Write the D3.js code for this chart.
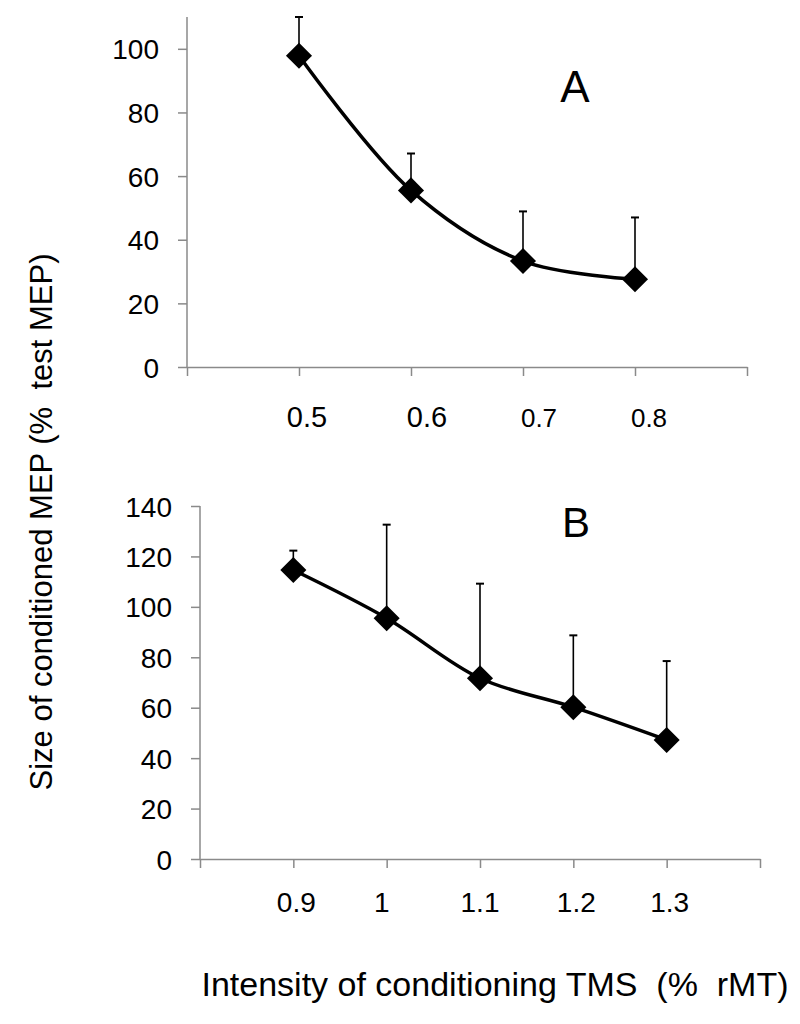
<!DOCTYPE html>
<html><head><meta charset="utf-8">
<script src="https://cdn.jsdelivr.net/npm/d3@7"></script>
<style>
body{margin:0;background:#fff;}
svg text{font-family:"Liberation Sans",Arial,sans-serif;fill:#000;}
</style></head>
<body><svg id="c" width="800" height="1024"></svg>
<script>
// Panel A data
const catsA = ["0.5","0.6","0.7","0.8"];
const meanA = [97.8, 55.5, 33.3, 27.6];
const errA  = [12.2, 11.6, 15.6, 19.4];
const yTicksA = [0,20,40,60,80,100];
// Panel B data
const catsB = ["0.9","1","1.1","1.2","1.3"];
const meanB = [114.6, 95.5, 71.7, 60.2, 47.2];
const errB  = [7.7, 37.1, 37.5, 28.5, 31.3];
const yTicksB = [0,20,40,60,80,100,120,140];

const svg = d3.select("#c");
const axisColor = "#8a8a8a";

function panel(cfg){
  const g = svg.append("g");
  const n = cfg.cats.length;
  const x = d3.scaleLinear().domain([0, n+1]).range([cfg.left, cfg.right]);
  const y = d3.scaleLinear().domain([0, cfg.ymax]).range([cfg.bottom, cfg.top]);

  // y axis
  const ya = g.append("g").attr("transform",`translate(${cfg.left},0)`)
    .call(d3.axisLeft(y).tickValues(cfg.yticks).tickSize(9).tickSizeOuter(0).tickPadding(cfg.yPad).tickFormat(d3.format("d")));
  ya.attr("font-size",cfg.yFont).attr("font-family",null);
  ya.selectAll("path,line").attr("stroke",axisColor).attr("stroke-width",1.5);
  ya.select(".domain").attr("d",`M0,${cfg.bottom}V${cfg.top}`);
  ya.selectAll("text").style("font-size",cfg.yFont+"px").attr("fill","#000").attr("dy","0.36em");

  // x axis
  const xa = g.append("g").attr("transform",`translate(0,${cfg.bottom})`)
    .call(d3.axisBottom(x).tickValues(d3.range(0,n+2)).tickSize(9).tickSizeOuter(0).tickFormat(""));
  xa.selectAll("path,line").attr("stroke",axisColor).attr("stroke-width",1.5);

  // x labels
  g.selectAll(".xl").data(cfg.cats).enter().append("text")
    .attr("x",(d,i)=>x(i+1)+cfg.xlabDx[i])
    .attr("y",cfg.xlabY)
    .attr("text-anchor","middle")
    .style("font-size",(d,i)=>cfg.xlabFont[i]+"px")
    .text(d=>d);

  const pts = cfg.means.map((m,i)=>({x:x(i+1), y:y(m), top:y(m+cfg.errs[i])}));

  // error bars
  const eb = g.append("g").attr("stroke","#000").attr("stroke-width",1.6);
  pts.forEach(p=>{
    eb.append("line").attr("x1",p.x).attr("x2",p.x).attr("y1",p.y).attr("y2",p.top);
    eb.append("line").attr("x1",p.x-4).attr("x2",p.x+4).attr("y1",p.top).attr("y2",p.top).attr("stroke-width",2);
  });

  // line
  g.append("path").datum(pts)
    .attr("d", d3.line().x(d=>d.x).y(d=>d.y).curve(d3.curveCatmullRom.alpha(0.5)))
    .attr("fill","none").attr("stroke","#000").attr("stroke-width",3.5);

  // markers (diamonds)
  g.selectAll(".mk").data(pts).enter().append("path")
    .attr("d", d3.symbol(d3.symbolSquare, 340)())
    .attr("transform", d=>`translate(${d.x},${d.y}) rotate(45)`)
    .attr("fill","#000");

  // panel letter
  g.append("text").attr("x",cfg.letterX).attr("y",cfg.letterY)
    .attr("text-anchor","middle").style("font-size",cfg.letterFont+"px").text(cfg.letter);
}

panel({cats:catsA, means:meanA, errs:errA, yticks:yTicksA, ymax:110,
  left:187, right:747, top:17, bottom:367, yFont:28, yPad:19,
  xlabY:427, xlabDx:[8,16,16,14], xlabFont:[29,29,26,26],
  letter:"A", letterX:575, letterY:102, letterFont:44});

panel({cats:catsB, means:meanB, errs:errB, yticks:yTicksB, ymax:140,
  left:200, right:760, top:506, bottom:859, yFont:28, yPad:19,
  xlabY:912, xlabDx:[3,-5,0,3,3], xlabFont:[28,28,28,28,28],
  letter:"B", letterX:576, letterY:537, letterFont:42});

// axis titles
svg.append("text").attr("transform","translate(52,522) rotate(-90)")
  .attr("text-anchor","middle").style("font-size","31px").style("white-space","pre")
  .text("Size of conditioned MEP (%  test MEP)");
svg.append("text").attr("x",495).attr("y",996)
  .attr("text-anchor","middle").style("font-size","34px").style("white-space","pre")
  .text("Intensity of conditioning TMS  (%  rMT)");
</script></body></html>
